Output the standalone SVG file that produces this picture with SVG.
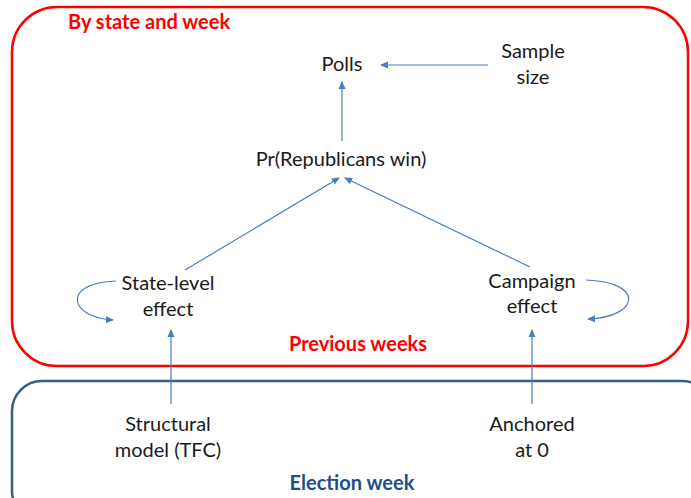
<svg xmlns="http://www.w3.org/2000/svg" width="691" height="498" viewBox="0 0 691 498">
<defs>
<marker id="ah" markerWidth="8" markerHeight="8" refX="7" refY="4" orient="auto" markerUnits="userSpaceOnUse">
<path d="M0,0.5 L8,4 L0,7.5 Z" fill="#4a7ebb"/>
</marker>
<style>
.t{font-family:Lato,"Liberation Sans",sans-serif;font-size:20px;fill:#1a1a1a;text-anchor:middle}
.h{font-family:Lato,"Liberation Sans",sans-serif;font-size:20px;font-weight:bold}
.c{fill:none;stroke:#4a7ebb;stroke-width:1.2;marker-end:url(#ah)}
</style>
</defs>
<rect width="691" height="498" fill="#fff"/>
<g id="frame-week">
<rect x="12" y="7" width="676" height="359" rx="45" ry="45" fill="none" stroke="#ff0000" stroke-width="2.5"/>
<text class="h" x="68" y="29" fill="#ff0000">By state and week</text>
<text class="h" x="358" y="351" fill="#ff0000" text-anchor="middle">Previous weeks</text>
</g>
<g id="frame-election">
<rect x="12" y="381" width="700" height="140" rx="30" ry="30" fill="none" stroke="#385d8a" stroke-width="2.5"/>
<text class="h" x="352" y="490" fill="#1f4e8a" text-anchor="middle">Election week</text>
</g>
<g id="polls"><text class="t" x="342" y="71">Polls</text></g>
<g id="sample-size"><text class="t" x="533" y="58">Sample</text><text class="t" x="533" y="84">size</text></g>
<g id="pr-win"><text class="t" x="341" y="166">Pr(Republicans win)</text></g>
<g id="state-effect"><text class="t" x="168" y="290">State-level</text><text class="t" x="168" y="316">effect</text></g>
<g id="campaign-effect"><text class="t" x="532" y="288">Campaign</text><text class="t" x="532" y="313">effect</text></g>
<g id="structural"><text class="t" x="168" y="431">Structural</text><text class="t" x="168" y="457">model (TFC)</text></g>
<g id="anchored"><text class="t" x="532" y="431">Anchored</text><text class="t" x="532" y="457">at 0</text></g>
<g id="connectors">
<line class="c" x1="488" y1="65" x2="381" y2="65"/>
<line class="c" x1="342" y1="141" x2="342" y2="82"/>
<line class="c" x1="185" y1="270" x2="339" y2="178"/>
<line class="c" x1="530" y1="267" x2="345" y2="178"/>
<path class="c" d="M116,281 C60,283 70,318 113,320"/>
<path class="c" d="M586,280 C645,282 640,317 588,319"/>
<line class="c" x1="171" y1="404" x2="171" y2="330"/>
<line class="c" x1="532" y1="404" x2="532" y2="330"/>
</g>
</svg>
